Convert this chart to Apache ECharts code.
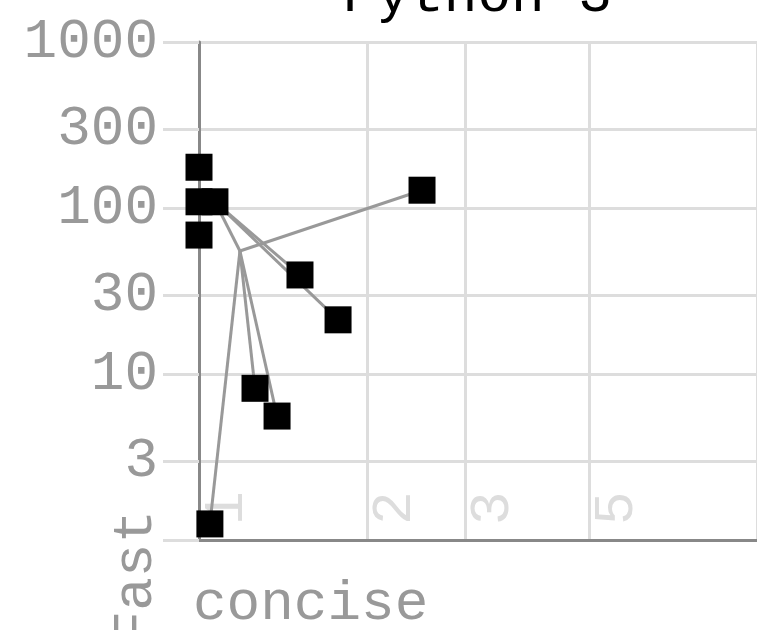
<!DOCTYPE html>
<html>
<head>
<meta charset="utf-8">
<script src="https://cdn.jsdelivr.net/npm/echarts@6/dist/echarts.min.js"></script>
<style>
  html, body { margin: 0; padding: 0; background: #fff; }
  #chart { width: 757px; height: 630px; }
</style>
</head>
<body>
<div id="chart"></div>
<script>
// program size (x, relative) and time (y, relative) per benchmark
var sizeX = [1.0, 1.0, 1.068, 1.0, 2.51, 1.517, 1.775, 1.26, 1.38, 1.046]
var timeY = [176, 109, 109, 68.7, 128, 39.5, 21.2, 8.2, 5.58, 1.25]
// hub where most connecting lines meet
var hubPoint = [1.184, 55.1]
var hubLinks = [4, 7, 8, 9]
var branchFrom = 2
var branchLinks = [5, 6]

var yTicks = [1, 3, 10, 30, 100, 300, 1000]
var yLabels = [3, 10, 30, 100, 300, 1000]
var xTicks = [1, 2, 3, 5, 10]
var xLabels = [1, 2, 3, 5]

var mono = 'Liberation Mono'

var points = sizeX.map(function (x, i) { return [x, timeY[i]] })
var links = []
hubLinks.forEach(function (i) {
  links.push({ coords: [hubPoint, points[i]] })
})
links.push({ coords: [points[branchFrom], hubPoint] })
branchLinks.forEach(function (i) {
  links.push({ coords: [points[branchFrom], points[i]] })
})

var myChart = echarts.init(document.getElementById('chart'))
var option = {
  animation: false,
  title: {
    text: 'Python 3',
    left: 343,
    top: -32,
    padding: 0,
    textStyle: { fontFamily: mono, fontSize: 56, fontWeight: 'normal', color: '#000' }
  },
  grid: {
    left: 199,
    right: 0,
    top: 42,
    bottom: 90,
    containLabel: false,
    outerBoundsMode: 'none'
  },
  xAxis: {
    type: 'log',
    logBase: 10,
    min: 1,
    max: 10,
    name: 'concise',
    nameLocation: 'start',
    nameGap: 6,
    nameMoveOverlap: false,
    nameTextStyle: {
      fontFamily: mono, fontSize: 56, color: '#999',
      align: 'left', verticalAlign: 'top', padding: [36, 0, 0, 0]
    },
    axisLine: { show: true, lineStyle: { color: '#888', width: 3 } },
    axisTick: { show: false, customValues: xTicks },
    splitLine: { show: true, lineStyle: { color: '#ddd', width: 3 } },
    axisLabel: {
      customValues: xLabels,
      inside: true,
      rotate: 90,
      margin: 15,
      verticalAlign: 'top',
      fontFamily: mono,
      fontSize: 56,
      color: '#ddd',
      formatter: function (v) { return String(v) }
    }
  },
  yAxis: {
    type: 'log',
    logBase: 10,
    min: 1,
    max: 1000,
    name: 'Fast',
    nameLocation: 'start',
    nameRotate: 90,
    nameGap: -30,
    nameMoveOverlap: false,
    nameTextStyle: {
      fontFamily: mono, fontSize: 56, color: '#999',
      verticalAlign: 'bottom', padding: [0, 0, 35, 0]
    },
    axisLine: { show: true, lineStyle: { color: '#888', width: 3 } },
    axisTick: { show: true, length: 36, customValues: yTicks, lineStyle: { color: '#ddd', width: 3 } },
    splitLine: { show: true, lineStyle: { color: '#ddd', width: 3 } },
    axisLabel: {
      customValues: yLabels,
      margin: 41,
      fontFamily: mono,
      fontSize: 56,
      color: '#999',
      formatter: function (v) { return String(v) }
    }
  },
  series: [
    {
      type: 'lines',
      coordinateSystem: 'cartesian2d',
      z: 2,
      lineStyle: { color: '#999', width: 3, opacity: 1 },
      data: links
    },
    {
      type: 'scatter',
      z: 3,
      symbol: 'rect',
      symbolSize: 27,
      itemStyle: { color: '#000', opacity: 1 },
      data: points
    }
  ]
}
myChart.setOption(option)
</script>
</body>
</html>
